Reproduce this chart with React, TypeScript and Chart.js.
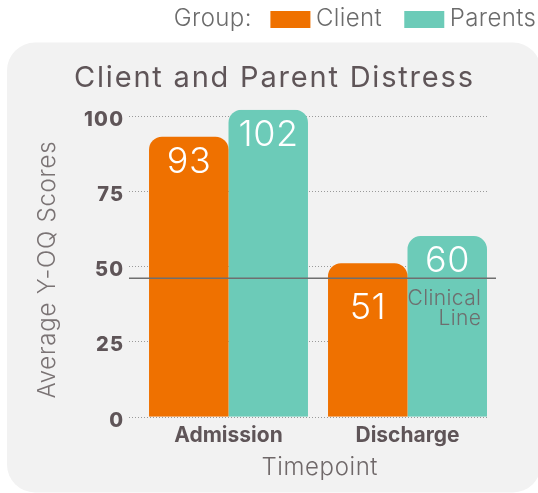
import React, { useEffect, useRef } from 'react';
import { Chart, registerables } from 'chart.js';

Chart.register(...registerables);

const categories = ['Admission', 'Discharge'];
const seriesNames = ['Client', 'Parents'];
const clientValues = [93, 51];
const parentValues = [102, 60];
const yTicks = [0, 25, 50, 75, 100];
const clinicalLine = 46;
const clinicalLabel = ['Clinical', 'Line'];
const legendTitle = 'Group:';
const chartTitle = 'Client and Parent Distress';
const yTitle = 'Average Y-OQ Scores';
const xTitle = 'Timepoint';

const FONT = 'Inter, "Noto Sans", sans-serif';
const TEXT = '#5f5558';
const ORANGE = '#ef7100';
const TEAL = '#6ccbb8';

function drawSpaced(ctx: any, text: string, x: number, y: number, spacing: number, align: 'left' | 'center' | 'right') {
  ctx.letterSpacing = `${spacing}px`;
  const w = ctx.measureText(text).width - spacing;
  ctx.textAlign = 'left';
  let sx = x;
  if (align === 'center') sx = x - w / 2;
  else if (align === 'right') sx = x - w;
  ctx.fillText(text, sx, y);
  ctx.letterSpacing = '0px';
}

const panelPlugin = {
  id: 'panel',
  beforeDraw(chart: any) {
    const { ctx } = chart;
    ctx.save();
    ctx.fillStyle = '#f2f2f2';
    ctx.beginPath();
    ctx.roundRect(7, 42.5, 534, 450, 28);
    ctx.fill();
    ctx.restore();
  },
};

const gridPlugin = {
  id: 'dotGrid',
  beforeDatasetsDraw(chart: any) {
    const { ctx, chartArea, scales } = chart;
    ctx.save();
    ctx.strokeStyle = '#9a9a9a';
    ctx.lineWidth = 1;
    ctx.setLineDash([1, 2]);
    yTicks.forEach((v) => {
      const y = Math.round(scales.y.getPixelForValue(v)) + 0.5;
      ctx.beginPath();
      ctx.moveTo(chartArea.left - 10, y);
      ctx.lineTo(chartArea.right - 9, y);
      ctx.stroke();
    });
    ctx.restore();
  },
};

const overlayPlugin = {
  id: 'overlay',
  afterDatasetsDraw(chart: any) {
    const { ctx, chartArea, scales } = chart;
    const lineY = scales.y.getPixelForValue(clinicalLine);
    ctx.save();
    ctx.strokeStyle = '#6f6f6f';
    ctx.lineWidth = 1.5;
    ctx.beginPath();
    ctx.moveTo(chartArea.left - 10, lineY);
    ctx.lineTo(chartArea.right - 1, lineY);
    ctx.stroke();

    ctx.font = `300 36px ${FONT}`;
    ctx.fillStyle = '#ffffff';
    ctx.textBaseline = 'middle';
    chart.data.datasets.forEach((ds: any, di: number) => {
      chart.getDatasetMeta(di).data.forEach((bar: any, i: number) => {
        let cy = bar.y + 25;
        if (cy + 15 > lineY && cy - 15 < lineY) cy = lineY + 30;
        drawSpaced(ctx, String(ds.data[i]), bar.x, cy, 0.5, 'center');
      });
    });

    const meta = chart.getDatasetMeta(1);
    const last = meta.data[meta.data.length - 1];
    const rx = last.x + last.width / 2 - 6;
    ctx.font = `300 21px ${FONT}`;
    ctx.fillStyle = '#6e6e6e';
    drawSpaced(ctx, clinicalLabel[0], rx, lineY + 20, 0.4, 'right');
    drawSpaced(ctx, clinicalLabel[1], rx, lineY + 40.5, 0.4, 'right');
    ctx.restore();
  },
};

const textPlugin = {
  id: 'texts',
  afterDraw(chart: any) {
    const { ctx, chartArea, scales } = chart;
    ctx.save();
    ctx.textBaseline = 'middle';

    // legend
    ctx.font = `300 24px ${FONT}`;
    const ls = 0.4;
    const cy = 18.5;
    const items = chart.data.datasets.map((ds: any) => ({ text: ds.label, color: ds.backgroundColor }));
    const pos: { sx: number; tx: number }[] = [];
    let x = 536;
    ctx.letterSpacing = `${ls}px`;
    for (let i = items.length - 1; i >= 0; i--) {
      const w = ctx.measureText(items[i].text).width - ls;
      x -= w;
      const tx = x;
      x -= 5.5 + 40;
      pos.unshift({ sx: x, tx });
      x -= i > 0 ? 22.5 : 19;
    }
    ctx.letterSpacing = '0px';
    ctx.fillStyle = '#6b6b6b';
    drawSpaced(ctx, legendTitle, x, cy, ls, 'right');
    items.forEach((it: any, i: number) => {
      ctx.fillStyle = it.color;
      ctx.fillRect(pos[i].sx, 11, 40, 17);
      ctx.fillStyle = '#6b6b6b';
      drawSpaced(ctx, it.text, pos[i].tx, cy, ls, 'left');
    });

    // chart title
    ctx.font = `400 29px ${FONT}`;
    ctx.fillStyle = TEXT;
    drawSpaced(ctx, chartTitle, 273.5, 78, 1.8, 'center');

    // y tick labels
    ctx.font = `800 20px ${FONT}`;
    ctx.fillStyle = TEXT;
    yTicks.forEach((v) => {
      const y = scales.y.getPixelForValue(v) + 4;
      drawSpaced(ctx, String(v), chartArea.left - 16, y, 1.2, 'right');
    });

    // y title
    ctx.font = `300 24px ${FONT}`;
    ctx.fillStyle = '#7a7374';
    ctx.save();
    ctx.translate(48, 270);
    ctx.rotate(-Math.PI / 2);
    drawSpaced(ctx, yTitle, 0, 0, 0.75, 'center');
    ctx.restore();

    // x title
    ctx.font = `300 24px ${FONT}`;
    ctx.fillStyle = '#6f6869';
    drawSpaced(ctx, xTitle, (chartArea.left + chartArea.right) / 2 + 1.5, 468, 0.6, 'center');

    ctx.restore();
  },
};

export default function App() {
  const ref = useRef<HTMLCanvasElement | null>(null);

  useEffect(() => {
    if (!ref.current) return;
    const barStyle = {
      borderRadius: { topLeft: 13, topRight: 13, bottomLeft: 0, bottomRight: 0 },
      borderSkipped: false,
      categoryPercentage: 0.888,
      barPercentage: 1,
    };
    const chart = new Chart(ref.current, {
      type: 'bar',
      data: {
        labels: categories,
        datasets: [
          { label: seriesNames[0], data: clientValues, backgroundColor: ORANGE, ...barStyle } as any,
          { label: seriesNames[1], data: parentValues, backgroundColor: TEAL, ...barStyle } as any,
        ],
      },
      options: {
        responsive: false,
        animation: false,
        devicePixelRatio: 1,
        layout: { padding: { left: 0, right: 41, top: 109.7, bottom: 0 } },
        plugins: {
          legend: { display: false },
          tooltip: { enabled: false },
          title: { display: false },
        },
        scales: {
          x: {
            grid: { display: false, drawTicks: false },
            border: { display: false },
            ticks: {
              color: TEXT,
              font: { family: FONT, size: 21, weight: '700' as any, lineHeight: 1.2 },
              padding: 6.7,
            },
            afterFit(scale: any) {
              scale.height = 76.3;
            },
          },
          y: {
            min: 0,
            max: 102,
            grid: { display: false, drawTicks: false },
            border: { display: false },
            afterBuildTicks(scale: any) {
              scale.ticks = yTicks.map((v) => ({ value: v }));
            },
            ticks: { display: false },
            afterFit(scale: any) {
              scale.width = 139;
            },
          },
        },
      },
      plugins: [panelPlugin, gridPlugin, overlayPlugin, textPlugin],
    });
    return () => chart.destroy();
  }, []);

  return (
    <div style={{ position: 'fixed', left: 0, top: 0, width: 538, height: 493, background: '#ffffff' }}>
      <canvas ref={ref} width={538} height={493} style={{ display: 'block', width: 538, height: 493 }} />
    </div>
  );
}
